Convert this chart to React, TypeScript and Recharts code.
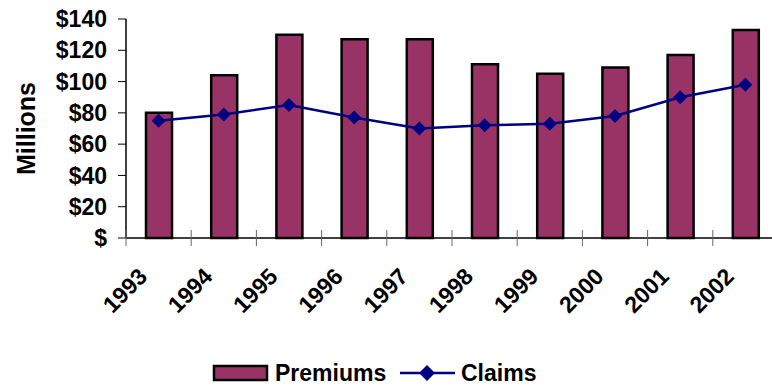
import { Bar, ComposedChart, Line, XAxis, YAxis } from "recharts";

const years = ["1993", "1994", "1995", "1996", "1997", "1998", "1999", "2000", "2001", "2002"];
const premiums = [80, 104, 130, 127, 127, 111, 105, 109, 117, 133];
const claims = [75, 79, 85, 77, 70, 72, 73, 78, 90, 98];
const yTicks = [0, 20, 40, 60, 80, 100, 120, 140];

const data = years.map((year, i) => ({ year, premiums: premiums[i], claims: claims[i] }));

const FONT = '"Liberation Sans", Arial, sans-serif';
const BAR_FILL = "#993366";
const LINE_COLOR = "#000080";

function Diamond(props: any) {
  const { cx, cy } = props;
  if (cx == null || cy == null) return null;
  const r = 7;
  return (
    <polygon
      points={`${cx},${cy - r} ${cx + r},${cy} ${cx},${cy + r} ${cx - r},${cy}`}
      fill={LINE_COLOR}
    />
  );
}

function YearTick(props: any) {
  const { x, y, payload } = props;
  const edge = payload.coordinate - payload.offset;
  const tx = x - 10;
  const ty = y + 40;
  return (
    <g>
      <line x1={edge} x2={edge} y1={y - 8} y2={y + 8} stroke="#666" strokeWidth={1} />
      <text
        x={tx}
        y={ty}
        textAnchor="end"
        transform={`rotate(-45, ${tx}, ${ty})`}
        fontFamily={FONT}
        fontWeight="bold"
        fontSize={23}
        fill="#000"
      >
        {payload.value}
      </text>
    </g>
  );
}

function MillionsLabel(props: any) {
  const { viewBox } = props;
  const x = 26;
  const y = viewBox.y + viewBox.height / 2;
  return (
    <text
      x={x}
      y={y}
      textAnchor="middle"
      dominantBaseline="central"
      transform={`rotate(-90, ${x}, ${y})`}
      fontFamily={FONT}
      fontWeight="bold"
      fontSize={25}
      fill="#000"
    >
      Millions
    </text>
  );
}

function Legend() {
  const text = { fontFamily: FONT, fontWeight: "bold" as const, fontSize: 23, color: "#000" };
  return (
    <div style={{ position: "absolute", left: 0, top: 360, width: 772, height: 26 }}>
      <svg width={772} height={26} style={{ position: "absolute", left: 0, top: 0 }}>
        <rect x={214} y={6} width={53} height={14} fill={BAR_FILL} stroke="#000" strokeWidth={2.5} />
        <line x1={400} x2={455} y1={13} y2={13} stroke={LINE_COLOR} strokeWidth={2.5} />
        <polygon points="427,5 435,13 427,21 419,13" fill={LINE_COLOR} />
      </svg>
      <span style={{ ...text, position: "absolute", left: 275, top: 0, lineHeight: "26px" }}>Premiums</span>
      <span style={{ ...text, position: "absolute", left: 461, top: 0, lineHeight: "26px" }}>Claims</span>
    </div>
  );
}

export default function App() {
  return (
    <div
      style={{
        position: "absolute",
        left: 0,
        top: 0,
        width: 772,
        height: 386,
        overflow: "hidden",
        background: "#fff",
      }}
    >
      <ComposedChart
        width={780}
        height={386}
        data={data}
        margin={{ top: 19, right: 2, bottom: 0, left: 0 }}
        barCategoryGap="30%"
      >
        <XAxis
          dataKey="year"
          height={148}
          axisLine={{ stroke: "#000", strokeWidth: 1.5 }}
          tickLine={false}
          tickSize={0}
          tickMargin={0}
          interval={0}
          tick={<YearTick />}
        />
        <YAxis
          width={126}
          domain={[0, 140]}
          ticks={yTicks}
          interval={0}
          axisLine={{ stroke: "#000", strokeWidth: 1.5 }}
          tickLine={{ stroke: "#000", strokeWidth: 1 }}
          tickSize={8}
          tickMargin={11}
          tickFormatter={(v: number) => (v === 0 ? "$" : `$${v}`)}
          tick={{ fontFamily: FONT, fontWeight: "bold", fontSize: 23, fill: "#000" }}
          label={<MillionsLabel />}
        />
        <Bar
          dataKey="premiums"
          fill={BAR_FILL}
          stroke="#000"
          strokeWidth={2.5}
          barSize={26}
          isAnimationActive={false}
        />
        <Line
          dataKey="claims"
          stroke={LINE_COLOR}
          strokeWidth={2.5}
          dot={<Diamond />}
          activeDot={false}
          isAnimationActive={false}
        />
      </ComposedChart>
      <Legend />
    </div>
  );
}
